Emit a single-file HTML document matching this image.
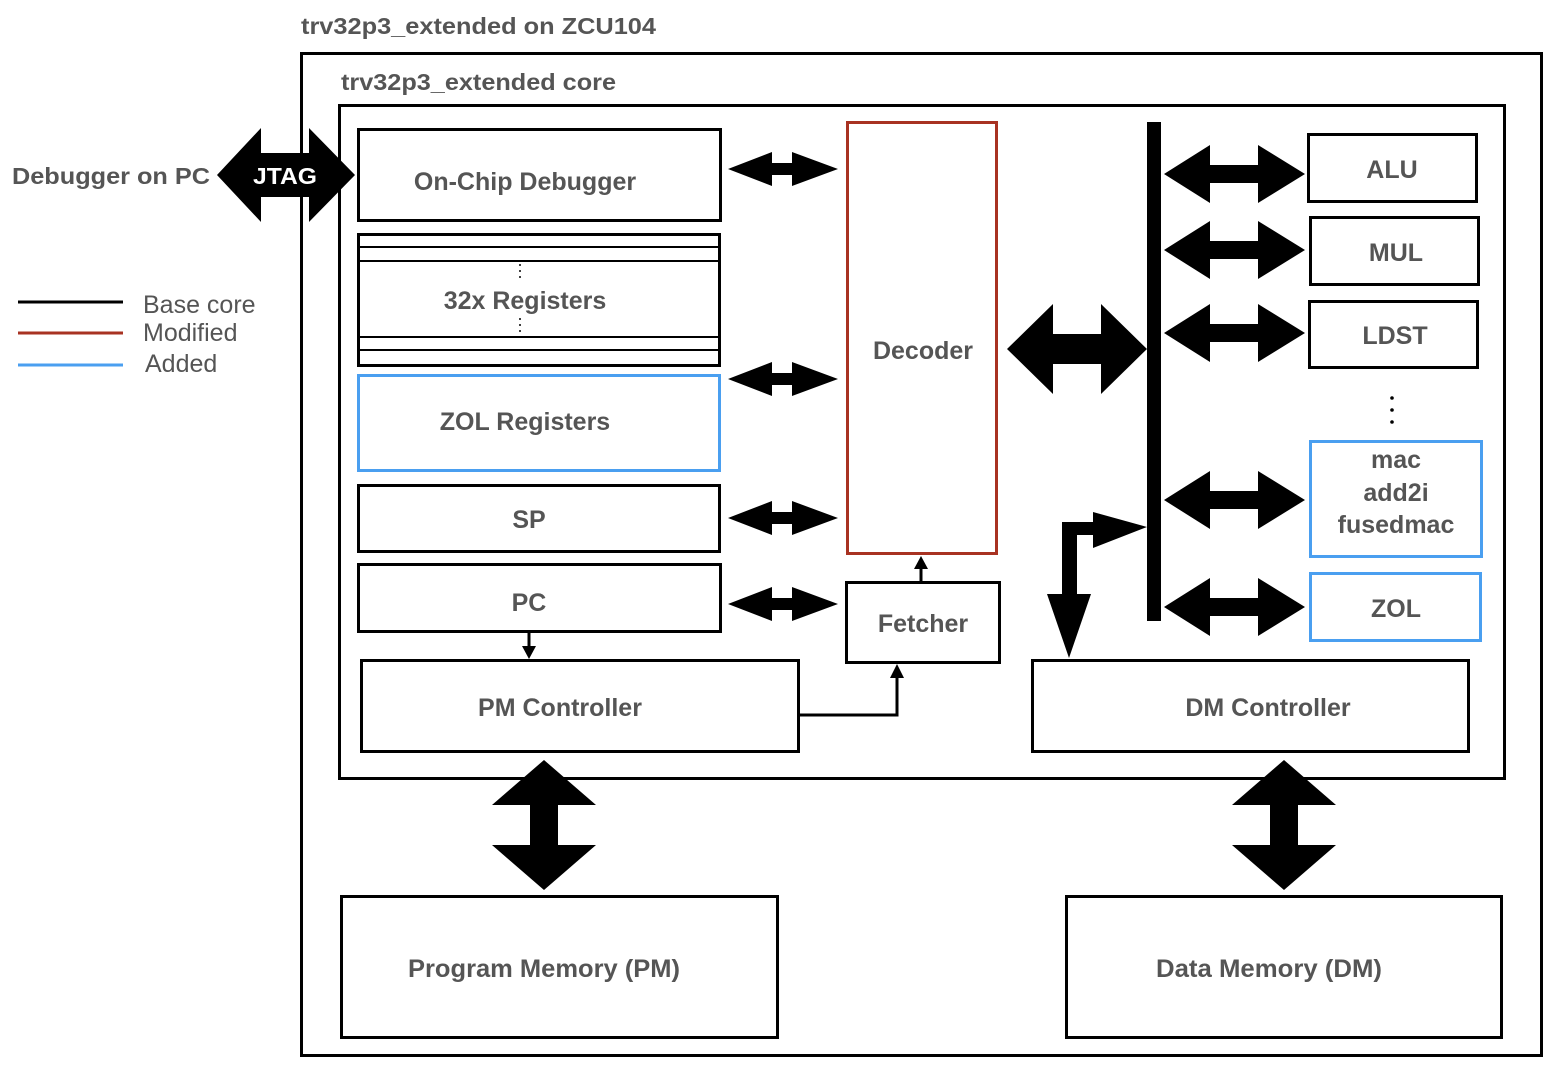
<!DOCTYPE html>
<html><head><meta charset="utf-8"><style>
html,body{margin:0;padding:0;background:#fff;}
svg{display:block;}
text{font-family:"Liberation Sans",Arial,sans-serif;fill:#555;font-weight:bold;}
</style></head><body>
<svg width="1554" height="1066" viewBox="0 0 1554 1066" xmlns="http://www.w3.org/2000/svg">
<defs>
<g id="sa"><polygon points="0,0 44,-17 44,-6 64,-6 64,-17 110,0 64,17 64,6 44,6 44,17" fill="#000"/></g>
<g id="ra"><polygon points="0,0 46,-29 46,-9 94,-9 94,-29 141,0 94,29 94,9 46,9 46,29" fill="#000"/></g>
<g id="va"><polygon points="0,0 52,45 14,45 14,85 52,85 0,130 -52,85 -14,85 -14,45 -52,45" fill="#000"/></g>
</defs>

<text x="301" y="34" font-size="23" textLength="355" lengthAdjust="spacingAndGlyphs">trv32p3_extended on ZCU104</text>
<rect x="301.5" y="53.5" width="1240" height="1002" fill="none" stroke="#000" stroke-width="3"/>
<text x="341" y="90" font-size="23" textLength="275" lengthAdjust="spacingAndGlyphs">trv32p3_extended core</text>
<rect x="339.5" y="105.5" width="1165" height="673" fill="none" stroke="#000" stroke-width="3"/>

<text x="12" y="184" font-size="23" textLength="198" lengthAdjust="spacingAndGlyphs">Debugger on PC</text>
<polygon points="217,175 261,128 261,153 309,153 309,128 355,175 309,222 309,197 261,197 261,222" fill="#000"/>
<text x="285" y="184" font-size="23" text-anchor="middle" style="fill:#fff" textLength="64" lengthAdjust="spacingAndGlyphs">JTAG</text>

<line x1="18" y1="302" x2="123" y2="302" stroke="#000" stroke-width="3"/>
<line x1="18" y1="333" x2="123" y2="333" stroke="#a83222" stroke-width="3"/>
<line x1="18" y1="365" x2="123" y2="365" stroke="#4a9ff0" stroke-width="3"/>
<text x="143" y="313" font-size="25" style="font-weight:normal">Base core</text>
<text x="143" y="341" font-size="25" style="font-weight:normal">Modified</text>
<text x="145" y="372" font-size="25" style="font-weight:normal">Added</text>

<rect x="358.5" y="129.5" width="362" height="91" fill="none" stroke="#000" stroke-width="3"/>
<text x="525" y="190" font-size="25" text-anchor="middle">On-Chip Debugger</text>

<rect x="358.5" y="234.5" width="361" height="131" fill="none" stroke="#000" stroke-width="3"/>
<line x1="358" y1="247" x2="720" y2="247" stroke="#000" stroke-width="2"/>
<line x1="358" y1="261" x2="720" y2="261" stroke="#000" stroke-width="2"/>
<line x1="358" y1="337" x2="720" y2="337" stroke="#000" stroke-width="2"/>
<line x1="358" y1="350" x2="720" y2="350" stroke="#000" stroke-width="2"/>
<line x1="520" y1="264" x2="520" y2="279" stroke="#000" stroke-width="1.5" stroke-dasharray="2,4"/>
<line x1="520" y1="318" x2="520" y2="333" stroke="#000" stroke-width="1.5" stroke-dasharray="2,4"/>
<text x="525" y="309" font-size="25" text-anchor="middle">32x Registers</text>

<rect x="358.5" y="375.5" width="361" height="95" fill="none" stroke="#4a9ff0" stroke-width="3"/>
<text x="525" y="430" font-size="25" text-anchor="middle">ZOL Registers</text>

<rect x="358.5" y="485.5" width="361" height="66" fill="none" stroke="#000" stroke-width="3"/>
<text x="529" y="528" font-size="25" text-anchor="middle">SP</text>

<rect x="358.5" y="564.5" width="362" height="67" fill="none" stroke="#000" stroke-width="3"/>
<text x="529" y="611" font-size="25" text-anchor="middle">PC</text>

<rect x="361.5" y="660.5" width="437" height="91" fill="none" stroke="#000" stroke-width="3"/>
<text x="560" y="716" font-size="25" text-anchor="middle">PM Controller</text>

<line x1="529" y1="632" x2="529" y2="648" stroke="#000" stroke-width="3"/>
<polygon points="522,646 536,646 529,659" fill="#000"/>

<use href="#sa" x="728" y="169"/>
<use href="#sa" x="728" y="379"/>
<use href="#sa" x="728" y="518"/>
<use href="#sa" x="728" y="604"/>

<rect x="847.5" y="122.5" width="149" height="431" fill="none" stroke="#a83222" stroke-width="3"/>
<text x="923" y="359" font-size="25" text-anchor="middle">Decoder</text>

<rect x="846.5" y="582.5" width="153" height="80" fill="none" stroke="#000" stroke-width="3"/>
<text x="923" y="632" font-size="25" text-anchor="middle">Fetcher</text>
<line x1="921" y1="582" x2="921" y2="566" stroke="#000" stroke-width="3"/>
<polygon points="914,569 928,569 921,556" fill="#000"/>
<polyline points="799,715 897,715 897,676" fill="none" stroke="#000" stroke-width="3"/>
<polygon points="890,678 904,678 897,664" fill="#000"/>

<polygon points="1007,349 1053,304 1053,334 1101,334 1101,304 1147,349 1101,394 1101,364 1053,364 1053,394" fill="#000"/>

<rect x="1147" y="122" width="14" height="499" fill="#000"/>

<use href="#ra" x="1164" y="174"/>
<use href="#ra" x="1164" y="250"/>
<use href="#ra" x="1164" y="333"/>
<use href="#ra" x="1164" y="500"/>
<use href="#ra" x="1164" y="607"/>

<rect x="1308.5" y="134.5" width="168" height="67" fill="none" stroke="#000" stroke-width="3"/>
<text x="1392" y="178" font-size="25" text-anchor="middle">ALU</text>
<rect x="1310.5" y="217.5" width="168" height="67" fill="none" stroke="#000" stroke-width="3"/>
<text x="1396" y="261" font-size="25" text-anchor="middle">MUL</text>
<rect x="1309.5" y="301.5" width="168" height="66" fill="none" stroke="#000" stroke-width="3"/>
<text x="1395" y="344" font-size="25" text-anchor="middle">LDST</text>
<circle cx="1392" cy="398" r="1.8" fill="#000"/>
<circle cx="1392" cy="410" r="1.8" fill="#000"/>
<circle cx="1392" cy="422" r="1.8" fill="#000"/>
<rect x="1310.5" y="441.5" width="171" height="115" fill="none" stroke="#4a9ff0" stroke-width="3"/>
<text x="1396" y="468" font-size="25" text-anchor="middle">mac</text>
<text x="1396" y="501" font-size="25" text-anchor="middle">add2i</text>
<text x="1396" y="533" font-size="25" text-anchor="middle">fusedmac</text>
<rect x="1310.5" y="573.5" width="170" height="67" fill="none" stroke="#4a9ff0" stroke-width="3"/>
<text x="1396" y="617" font-size="25" text-anchor="middle">ZOL</text>

<polygon points="1147,527 1093,512 1093,522 1062,522 1062,594 1047,594 1069,658 1091,594 1077,594 1077,535 1093,535 1093,548" fill="#000"/>

<rect x="1032.5" y="660.5" width="436" height="91" fill="none" stroke="#000" stroke-width="3"/>
<text x="1268" y="716" font-size="25" text-anchor="middle">DM Controller</text>

<use href="#va" x="544" y="760"/>
<use href="#va" x="1284" y="760"/>

<rect x="341.5" y="896.5" width="436" height="141" fill="none" stroke="#000" stroke-width="3"/>
<text x="544" y="977" font-size="25" text-anchor="middle" textLength="272" lengthAdjust="spacingAndGlyphs">Program Memory (PM)</text>
<rect x="1066.5" y="896.5" width="435" height="141" fill="none" stroke="#000" stroke-width="3"/>
<text x="1269" y="977" font-size="25" text-anchor="middle" textLength="226" lengthAdjust="spacingAndGlyphs">Data Memory (DM)</text>
</svg>
</body></html>
